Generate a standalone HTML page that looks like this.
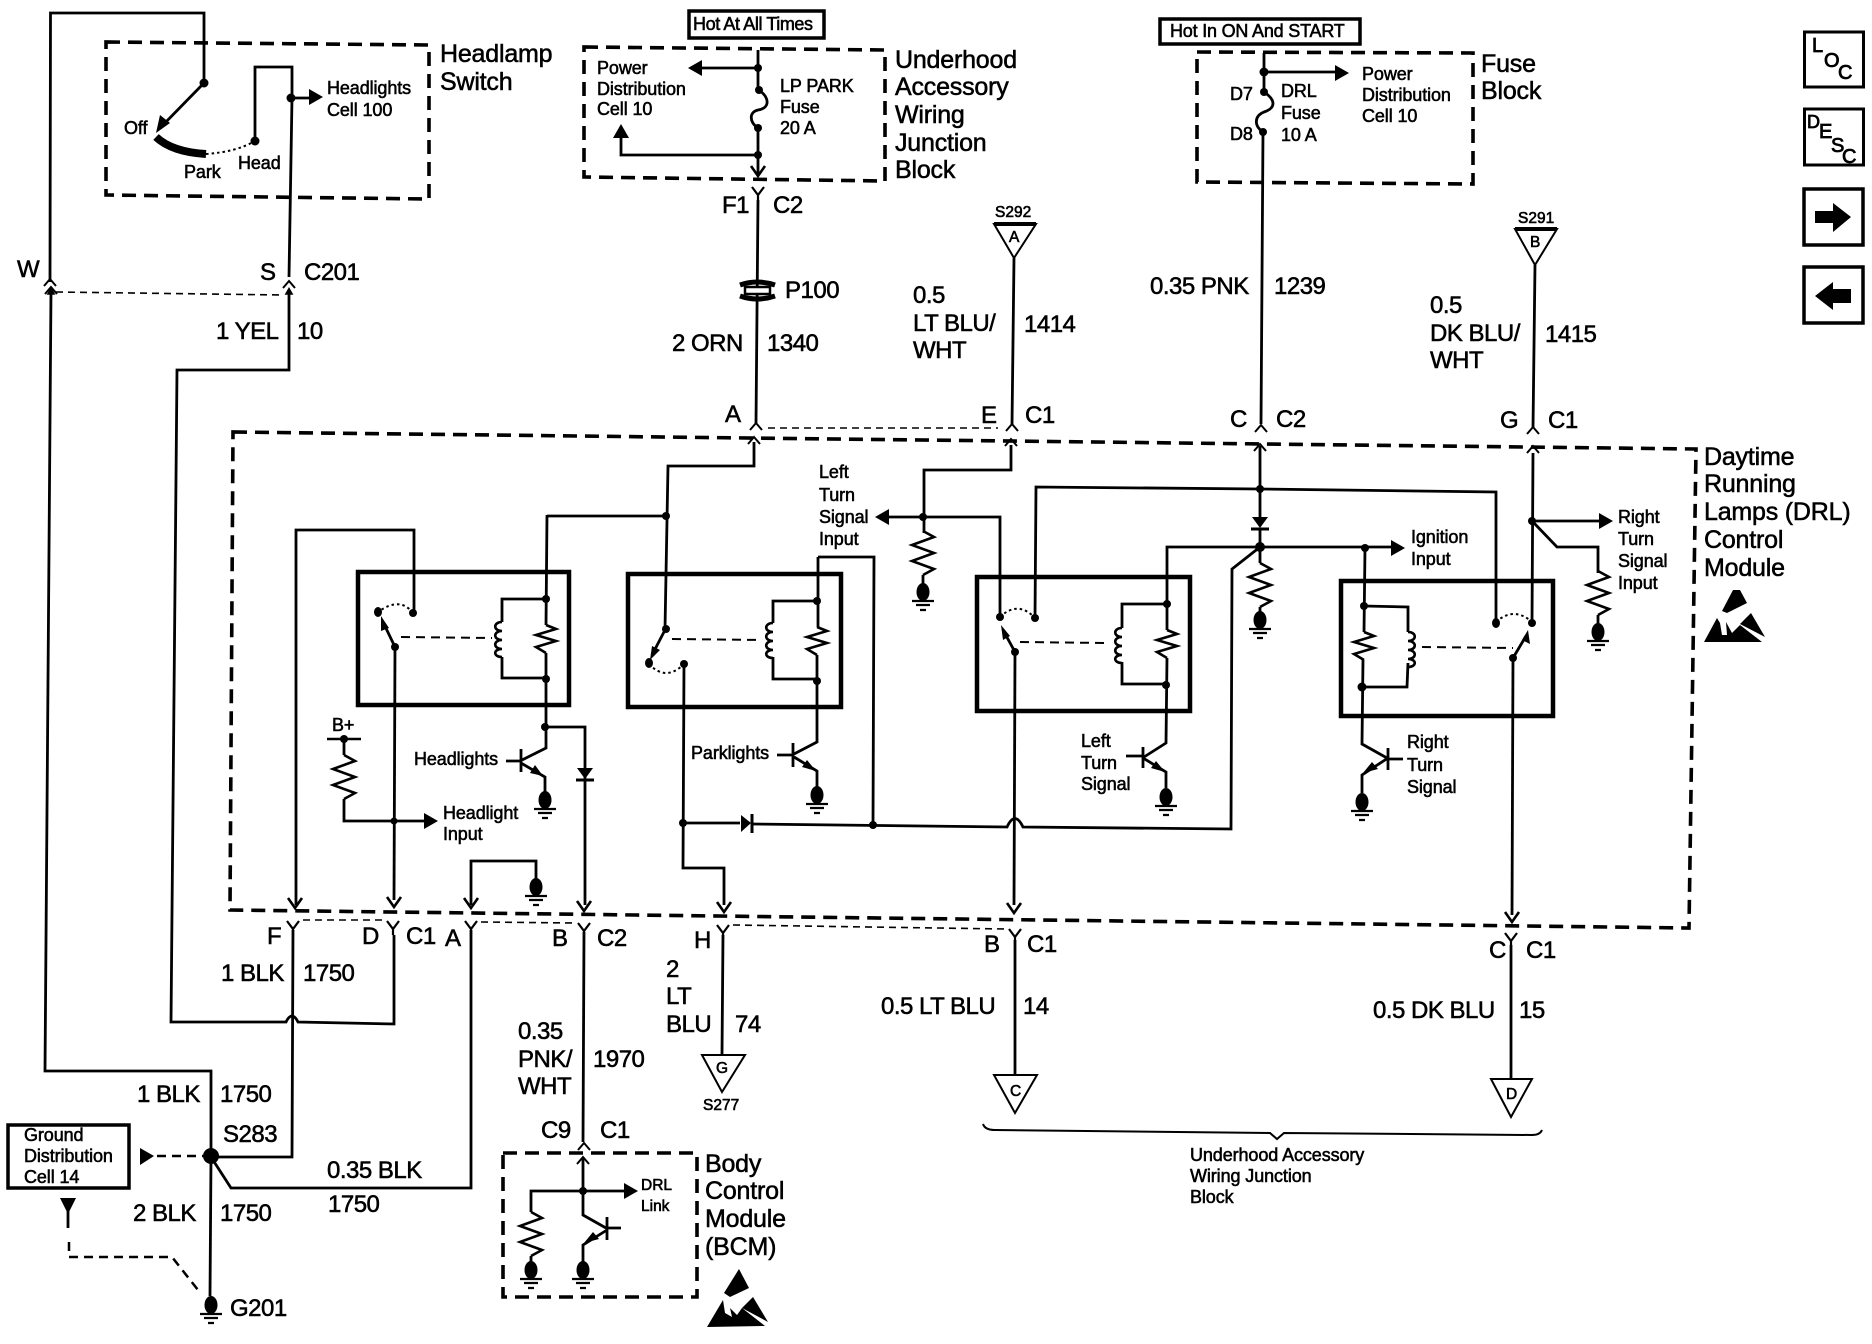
<!DOCTYPE html>
<html><head><meta charset="utf-8">
<style>
html,body{margin:0;padding:0;background:#fff}
svg{display:block}
text{font-family:"Liberation Sans",sans-serif;fill:#000;stroke:#000;stroke-width:.55}
.b{font-size:24px;letter-spacing:-.5px}
.m{font-size:25px;letter-spacing:-.2px}
.s{font-size:18px;letter-spacing:-.1px}
.t{font-size:15.5px;stroke-width:.6}
.w{fill:none;stroke:#000;stroke-width:2.8;stroke-linejoin:miter}
.n{fill:none;stroke:#000;stroke-width:2}
.k{fill:none;stroke:#000;stroke-width:4.5}
.d{fill:none;stroke:#000;stroke-width:3.6;stroke-dasharray:14 8}
.h{fill:none;stroke:#000;stroke-width:1.6;stroke-dasharray:7 5}
.r{fill:none;stroke:#000;stroke-width:2;stroke-dasharray:9 6}
.o{fill:none;stroke:#000;stroke-width:2;stroke-dasharray:2.5 3}
.l{font-size:20px;stroke-width:.8}
</style></head><body>
<svg xmlns="http://www.w3.org/2000/svg" width="1872" height="1344" viewBox="0 0 1872 1344">
<defs>
<polygon id="ar" points="0,0 -14,-8 -14,8" fill="#000"/>
<path id="va" d="M-7,-10 L0,0 L7,-10" fill="none" stroke="#000" stroke-width="2.6"/>
<path id="ca" d="M-6,7 L0,0 L6,7" fill="none" stroke="#000" stroke-width="2"/>
<path id="yc" d="M-6,0 L0,8 L6,0 M0,8 V14" fill="none" stroke="#000" stroke-width="2.2"/>
<g id="gr"><ellipse cx="0" cy="0" rx="6.5" ry="9" fill="#000"/><path d="M-11,9 H11 M-7,13 H7 M-3,18 H3" stroke="#000" stroke-width="2.2"/></g>
<path id="rs" d="M0,0 L10,4 L-10,10 L10,16 L-10,22 L0,28" fill="none" stroke="#000" stroke-width="2.6"/>
<path id="rl" d="M0,0 L11,6 L-11,14 L11,22 L-11,30 L11,38 L0,44" fill="none" stroke="#000" stroke-width="2.6"/>
<path id="cl" d="M0,0 c-9,0 -9,9 0,9 c-9,0 -9,9 0,9 c-9,0 -9,9 0,9 c-9,0 -9,8 0,8" fill="none" stroke="#000" stroke-width="2.6"/>
</defs>

<!-- Headlamp switch -->
<path class="d" d="M106,42 L429,45 L429,199 L106,195 Z"/>
<path class="w" d="M50,282 L50.500,13 H204 V83"/>
<path class="w" d="M204,83 L160,128"/>
<polygon points="156,133 160,115 170,123" fill="#000"/>
<path d="M156,137 Q172,152 206,154" fill="none" stroke="#000" stroke-width="8"/>
<path class="o" d="M206,154 Q236,152 255,141"/>
<path class="w" d="M255,141 V67 H292 V98 L289,277"/>
<path class="w" d="M291,98 H310"/><use href="#ar" transform="translate(323,97)"/>
<circle cx="204" cy="83" r="4.500"/><circle cx="255" cy="141" r="4.500"/><circle cx="291" cy="98" r="4.500"/>
<text class="s" x="124" y="134">Off</text><text class="s" x="184" y="178">Park</text><text class="s" x="238" y="169">Head</text>
<text class="s" x="327" y="94">Headlights</text><text class="s" x="327" y="116">Cell 100</text>
<text class="m" x="440" y="62">Headlamp</text><text class="m" x="440" y="90">Switch</text>

<!-- C201 -->
<use href="#ca" transform="translate(50,279)"/><use href="#ca" transform="translate(289,281)"/>
<use href="#ca" transform="translate(51,287)"/><use href="#ar" transform="translate(51,287) rotate(-90) scale(.55)"/>
<path class="h" d="M56,292 L284,295"/>
<path class="w" d="M51,290 L45,1071 H211 V1157"/>
<path class="w" d="M289,290 V370 H177 L171,1022 H286 Q292,1010 298,1022 L394,1024 V935"/>
<use href="#ar" transform="translate(289,287) rotate(-90) scale(.55)"/>
<text class="b" x="17" y="277">W</text><text class="b" x="260" y="280">S</text><text class="b" x="304" y="280">C201</text>
<text class="b" x="216" y="339">1 YEL</text><text class="b" x="297" y="339">10</text>

<!-- Hot at all times -->
<rect x="689" y="11" width="135" height="27" fill="none" stroke="#000" stroke-width="3.5"/>
<text class="s" x="693" y="30" style="letter-spacing:-.4px">Hot At All Times</text>
<path class="d" d="M584,47 L885,50 L885,181 L584,177 Z"/>
<path class="w" d="M758,50 V90"/><path class="w" d="M758,68 H700"/><use href="#ar" transform="translate(688,68) rotate(180)"/>
<path class="w" d="M759,90 C770,98 770,108 758,110 C749,112 749,122 758,128 V175"/>
<path class="w" d="M758,155 H621 V135"/><use href="#ar" transform="translate(621,124) rotate(-90)"/>
<use href="#va" transform="translate(758,176)"/>
<circle cx="758" cy="68" r="4"/><circle cx="759" cy="90" r="4"/><circle cx="758" cy="128" r="4"/><circle cx="758" cy="155" r="4"/>
<text class="s" x="597" y="74">Power</text><text class="s" x="597" y="95">Distribution</text><text class="s" x="597" y="115">Cell 10</text>
<text class="s" x="780" y="92">LP PARK</text><text class="s" x="780" y="113">Fuse</text><text class="s" x="780" y="134">20 A</text>
<text class="m" x="895" y="68">Underhood</text><text class="m" x="895" y="95">Accessory</text><text class="m" x="895" y="123">Wiring</text><text class="m" x="895" y="151">Junction</text><text class="m" x="895" y="178">Block</text>
<use href="#yc" transform="translate(758,187)"/>
<path class="w" d="M758,200 L756,423"/>
<path d="M740,285 Q757,279 775,285 M740,296 Q757,302 775,296" fill="none" stroke="#000" stroke-width="5"/>
<rect x="745" y="287" width="25" height="7" fill="#fff" stroke="#000" stroke-width="2.5"/>
<text class="b" x="722" y="213">F1</text><text class="b" x="773" y="213">C2</text>
<text class="b" x="785" y="298">P100</text>
<text class="b" x="672" y="351">2 ORN</text><text class="b" x="767" y="351">1340</text>
<text class="b" x="725" y="422">A</text>
<use href="#ca" transform="translate(756,423)"/>
<path class="h" d="M768,428 L998,428"/>

<!-- S292 -->
<text class="t" x="995" y="217">S292</text>
<polygon points="994,224 1036,224 1014,258" fill="none" stroke="#000" stroke-width="2"/><path d="M994,224 H1036" stroke="#000" stroke-width="4"/>
<text class="t" x="1009" y="242">A</text>
<path class="w" d="M1014,258 L1012,425"/><use href="#ca" transform="translate(1012,424)"/>
<text class="b" x="913" y="303">0.5</text><text class="b" x="913" y="331">LT BLU/</text><text class="b" x="913" y="358">WHT</text>
<text class="b" x="1024" y="332">1414</text>
<text class="b" x="981" y="423">E</text><text class="b" x="1025" y="423">C1</text>

<!-- Fuse block -->
<rect x="1160" y="19" width="200" height="25" fill="none" stroke="#000" stroke-width="3.500"/>
<text class="s" x="1170" y="37" style="letter-spacing:-.2px">Hot In ON And START</text>
<path class="d" d="M1197,52 L1473,53 L1473,184 L1197,182 Z"/>
<path class="w" d="M1264,53 V92 C1276,100 1276,108 1264,112 C1254,116 1254,126 1263,132 L1261,424"/>
<path class="w" d="M1264,72 H1336"/><use href="#ar" transform="translate(1349,73)"/>
<circle cx="1264" cy="72" r="4.500"/><circle cx="1264" cy="92" r="4"/><circle cx="1263" cy="132" r="4"/>
<text class="s" x="1230" y="100">D7</text><text class="s" x="1230" y="140">D8</text>
<text class="s" x="1281" y="97">DRL</text><text class="s" x="1281" y="119">Fuse</text><text class="s" x="1281" y="141">10 A</text>
<text class="s" x="1362" y="80">Power</text><text class="s" x="1362" y="101">Distribution</text><text class="s" x="1362" y="122">Cell 10</text>
<text class="m" x="1481" y="72">Fuse</text><text class="m" x="1481" y="99">Block</text>
<text class="b" x="1150" y="294">0.35 PNK</text><text class="b" x="1274" y="294">1239</text>
<text class="b" x="1230" y="427">C</text><text class="b" x="1276" y="427">C2</text>
<use href="#ca" transform="translate(1261,425)"/>

<!-- S291 -->
<text class="t" x="1518" y="223">S291</text>
<polygon points="1515,229 1557,229 1535,265" fill="none" stroke="#000" stroke-width="2"/><path d="M1515,229 H1557" stroke="#000" stroke-width="4"/>
<text class="t" x="1530" y="247">B</text>
<path class="w" d="M1535,265 L1533,428"/><use href="#ca" transform="translate(1533,427)"/>
<text class="b" x="1430" y="313">0.5</text><text class="b" x="1430" y="341">DK BLU/</text><text class="b" x="1430" y="368">WHT</text>
<text class="b" x="1545" y="342">1415</text>
<text class="b" x="1500" y="428">G</text><text class="b" x="1548" y="428">C1</text>

<!-- Nav buttons -->
<rect x="1804.500" y="32" width="59" height="55" fill="none" stroke="#000" stroke-width="3"/>
<text class="l" x="1812" y="52">L</text><text class="l" x="1824" y="67">O</text><text class="l" x="1838" y="79">C</text>
<rect x="1804.500" y="109" width="59" height="56" fill="none" stroke="#000" stroke-width="3"/>
<text class="l" x="1807" y="128" style="font-size:18px">D</text><text class="l" x="1819" y="138">E</text><text class="l" x="1831" y="152">S</text><text class="l" x="1842" y="163">C</text>
<rect x="1804" y="189" width="59" height="56" fill="none" stroke="#000" stroke-width="3.500"/>
<polygon points="1815,211 1833,211 1833,203 1851,217 1833,232 1833,223 1815,223" fill="#000"/>
<rect x="1804" y="267" width="59" height="56" fill="none" stroke="#000" stroke-width="3.500"/>
<polygon points="1851,289 1833,289 1833,282 1815,296 1833,310 1833,303 1851,303" fill="#000"/>

<!-- Main module dashed -->
<path class="d" d="M233,432 L1696,449 L1689,928 L230,910 Z"/>
<text class="m" x="1704" y="465">Daytime</text><text class="m" x="1704" y="492">Running</text><text class="m" x="1704" y="520">Lamps (DRL)</text><text class="m" x="1704" y="548">Control</text><text class="m" x="1704" y="576">Module</text>
<polygon points="1733,590 1740,590 1747,603 1727,613 1722,611" fill="#000"/>
<polygon points="1717,618 1720,623 1722,635 1727,635 1726,622 1732,633 1740,625 1762,642 1704,642" fill="#000"/>
<polygon points="1751,613 1765,637 1740,624" fill="#000"/>

<!-- Relay 1 -->
<rect x="358" y="572" width="211" height="133" class="k"/>
<path class="w" d="M296,905 V530 H414 V613"/>
<path class="o" d="M413,613 Q400,596 378,612"/>
<circle cx="413" cy="613" r="4"/><ellipse cx="378" cy="612" rx="4" ry="5"/>
<path class="w" d="M395,647 L383,622"/><polygon points="381,616 389,628 381,631" fill="#000"/>
<circle cx="395" cy="647" r="4"/>
<path class="r" d="M401,637 L492,638"/>
<path class="w" d="M395,647 L394,900"/><use href="#va" transform="translate(394,907)"/>
<use href="#va" transform="translate(295,908)"/>
<path class="w" d="M546,599 H502 V622"/><use href="#cl" transform="translate(502,622)"/><path class="w" d="M502,657 V678 H546"/>
<path class="w" d="M547,515 L546,625"/><use href="#rs" transform="translate(546,625)"/><path class="w" d="M546,653 V748 L522,760"/>
<circle cx="546" cy="599" r="4"/><circle cx="546" cy="679" r="4"/><circle cx="545" cy="727" r="4"/>
<path class="w" d="M506,761 H521 M521,749 V772"/>
<path class="w" d="M521,763 L545,777 V792"/><polygon points="543,776 530,773 535,765" fill="#000"/>
<use href="#gr" transform="translate(545,800)"/>
<text class="s" x="414" y="765">Headlights</text>
<path class="w" d="M545,727 H585 V905"/><polygon points="577,768 593,768 585,779" fill="#000"/><path d="M576,780 H594" stroke="#000" stroke-width="3"/>
<use href="#va" transform="translate(584,911)"/>
<text class="s" x="332" y="731">B+</text>
<path d="M327,739 H361" stroke="#000" stroke-width="2.600"/><circle cx="344" cy="739" r="4"/>
<path class="w" d="M344,739 V755"/><use href="#rl" transform="translate(344,755)"/><path class="w" d="M344,799 V821 H426"/>
<use href="#ar" transform="translate(438,821)"/><circle cx="394" cy="821" r="3.500"/>
<text class="s" x="443" y="819">Headlight</text><text class="s" x="443" y="840">Input</text>
<path class="w" d="M471,905 V861 H536 V880"/><use href="#va" transform="translate(471,908)"/>
<use href="#gr" transform="translate(536,887)"/>

<!-- top link A -->
<path class="w" d="M754,442 V466 H668 L665,629"/><use href="#ca" transform="translate(754,437)"/>
<path class="w" d="M666,516 H547"/><circle cx="666" cy="516" r="4"/>

<!-- Relay 2 -->
<rect x="628" y="574" width="213" height="133" class="k"/>
<circle cx="666" cy="629" r="4"/><ellipse cx="649" cy="663" rx="4" ry="5"/><circle cx="684" cy="664" r="4"/>
<path class="w" d="M665,630 L652,655"/><polygon points="650,660 652,646 660,650" fill="#000"/>
<path class="o" d="M649,664 Q666,682 684,664"/>
<path class="r" d="M672,639 L762,640"/>
<path class="w" d="M684,664 L683,868 H724 V905"/><use href="#va" transform="translate(724,912)"/>
<path class="w" d="M817,601 H773 V623"/><use href="#cl" transform="translate(773,623)"/><path class="w" d="M773,657 V679 H817"/>
<path class="w" d="M818,557 H874 L873,825"/>
<path class="w" d="M818,557 V627"/><use href="#rs" transform="translate(817,627)"/><path class="w" d="M817,655 V742 L794,754"/>
<circle cx="817" cy="601" r="4"/><circle cx="817" cy="681" r="4"/>
<path class="w" d="M777,755 H793 M793,743 V767"/><path class="w" d="M794,757 L817,771 V787"/><polygon points="816,771 802,767 807,760" fill="#000"/>
<use href="#gr" transform="translate(817,795)"/>
<text class="s" x="691" y="759">Parklights</text>
<text class="s" x="819" y="478">Left</text><text class="s" x="819" y="501">Turn</text><text class="s" x="819" y="523">Signal</text><text class="s" x="819" y="545">Input</text>

<!-- diode line -->
<path class="w" d="M683,823 H740 M752,824 L1007,827 Q1015,810 1023,827 L1231,829 L1232,569 L1260,547"/>
<polygon points="741,815 751,823 741,832" fill="#000"/><path d="M752,814 V833" stroke="#000" stroke-width="3"/>
<circle cx="683" cy="823" r="4"/><circle cx="873" cy="825" r="4"/>

<!-- Left turn input -->
<path class="w" d="M1011,445 V470 H924 V533"/><use href="#ca" transform="translate(1011,439)"/>
<use href="#ar" transform="translate(875,517) rotate(180)"/><path class="w" d="M888,517 H1000 V617"/><circle cx="923" cy="517" r="4"/>
<use href="#rl" transform="translate(923,531)"/><path class="w" d="M923,575 V585"/><use href="#gr" transform="translate(923,592)"/>

<!-- Relay 3 -->
<rect x="977" y="577" width="213" height="134" class="k"/>
<path class="w" d="M1035,618 L1036,487 L1260,489 L1496,492 V623"/>
<circle cx="1000" cy="617" r="4"/><circle cx="1035" cy="618" r="4"/><circle cx="1015" cy="652" r="4"/>
<path class="o" d="M1000,617 Q1018,600 1035,618"/>
<path class="w" d="M1015,652 L1003,630"/><polygon points="1001,625 1010,636 1003,640" fill="#000"/>
<path class="r" d="M1020,642 L1107,643"/>
<path class="w" d="M1015,652 L1014,905"/><use href="#va" transform="translate(1014,913)"/>
<path class="w" d="M1167,604 H1122 V628"/><use href="#cl" transform="translate(1122,628)"/><path class="w" d="M1122,662 V684 H1166"/>
<path class="w" d="M1260,547 H1167 V630"/><use href="#rs" transform="translate(1167,630)"/><path class="w" d="M1167,658 L1166,743 L1144,757"/>
<circle cx="1167" cy="604" r="4"/><circle cx="1166" cy="685" r="4"/>
<path class="w" d="M1126,756 H1143 M1143,747 V768"/><path class="w" d="M1143,758 L1166,772 V788"/><polygon points="1165,772 1151,768 1156,761" fill="#000"/>
<use href="#gr" transform="translate(1166,797)"/>
<text class="s" x="1081" y="747">Left</text><text class="s" x="1081" y="769">Turn</text><text class="s" x="1081" y="790">Signal</text>

<!-- Center ignition -->
<path class="w" d="M1260,446 V518 M1260,530 V563"/><use href="#ca" transform="translate(1260,444)"/>
<polygon points="1252,517 1268,517 1260,528" fill="#000"/><path d="M1251,529 H1269" stroke="#000" stroke-width="3"/>
<circle cx="1260" cy="489" r="4"/><circle cx="1260" cy="547" r="5"/>
<use href="#rl" transform="translate(1260,563)"/><path class="w" d="M1260,607 V613"/><use href="#gr" transform="translate(1260,620)"/>
<path class="w" d="M1260,547 H1392"/><use href="#ar" transform="translate(1405,548)"/><circle cx="1365" cy="548" r="4"/>
<text class="s" x="1411" y="543">Ignition</text><text class="s" x="1411" y="565">Input</text>

<!-- Relay 4 -->
<rect x="1341" y="581" width="212" height="135" class="k"/>
<path class="w" d="M1365,548 L1364,632"/><use href="#rs" transform="translate(1364,632)"/><path class="w" d="M1363,660 L1362,744 L1387,758"/>
<path class="w" d="M1364,606 L1408,607 V632"/><use href="#cl" transform="translate(1408,632) scale(-1,1)"/><path class="w" d="M1408,663 L1407,687 H1362"/>
<circle cx="1364" cy="606" r="4"/><circle cx="1362" cy="687" r="4.500"/>
<path class="w" d="M1403,759 H1388 M1388,748 V770"/><path class="w" d="M1388,758 L1362,775 V793"/><polygon points="1363,773 1372,762 1378,769" fill="#000"/>
<use href="#gr" transform="translate(1362,802)"/>
<text class="s" x="1407" y="748">Right</text><text class="s" x="1407" y="771">Turn</text><text class="s" x="1407" y="793">Signal</text>
<path class="r" d="M1422,647 L1513,648"/>
<ellipse cx="1496" cy="623" rx="4" ry="5"/><circle cx="1532" cy="623" r="4"/><circle cx="1513" cy="658" r="4"/>
<path class="o" d="M1496,622 Q1514,606 1532,622"/>
<path class="w" d="M1513,658 L1526,636"/><polygon points="1528,630 1530,644 1522,640" fill="#000"/>
<path class="w" d="M1513,658 L1512,915"/><use href="#va" transform="translate(1512,922)"/>
<path class="w" d="M1533,453 L1532,623"/><use href="#ca" transform="translate(1533,446)"/>
<circle cx="1532" cy="521" r="4"/>
<path class="w" d="M1532,521 H1600"/><use href="#ar" transform="translate(1613,521)"/>
<path class="w" d="M1533,522 L1557,547 H1598 V573"/><use href="#rl" transform="translate(1598,571)"/><path class="w" d="M1598,615 V625"/>
<use href="#gr" transform="translate(1598,632)"/>
<text class="s" x="1618" y="523">Right</text><text class="s" x="1618" y="545">Turn</text><text class="s" x="1618" y="567">Signal</text><text class="s" x="1618" y="589">Input</text>

<!-- Lower connectors -->
<use href="#yc" transform="translate(293,921)"/><use href="#yc" transform="translate(393,921)"/><use href="#yc" transform="translate(471,921)"/><use href="#yc" transform="translate(584,923)"/><use href="#yc" transform="translate(723,925)"/><use href="#yc" transform="translate(1015,929)"/><use href="#yc" transform="translate(1511,933)"/>
<path class="h" d="M303,920 L383,920 M481,922 L574,923 M733,925 L1005,929"/>
<text class="b" x="267" y="944">F</text><text class="b" x="362" y="944">D</text><text class="b" x="406" y="944">C1</text><text class="b" x="445" y="946">A</text><text class="b" x="552" y="946">B</text><text class="b" x="597" y="946">C2</text><text class="b" x="694" y="948">H</text>
<text class="b" x="984" y="952">B</text><text class="b" x="1027" y="952">C1</text><text class="b" x="1489" y="958">C</text><text class="b" x="1526" y="958">C1</text>
<path class="w" d="M293,930 L292,1157 H211"/>
<path class="w" d="M471,930 V1188 H231 L211,1157"/>
<path class="w" d="M584,932 L583,1142"/>
<path class="w" d="M723,935 L722,1054"/>
<path class="w" d="M1015,940 V1074"/>
<path class="w" d="M1511,945 V1078"/>
<text class="b" x="221" y="981">1 BLK</text><text class="b" x="303" y="981">1750</text>
<text class="b" x="137" y="1102">1 BLK</text><text class="b" x="220" y="1102">1750</text>
<text class="b" x="223" y="1142">S283</text>
<text class="b" x="327" y="1178">0.35 BLK</text><text class="b" x="328" y="1212">1750</text>
<text class="b" x="133" y="1221">2 BLK</text><text class="b" x="220" y="1221">1750</text>
<path class="w" d="M211,1157 L210,1296"/><circle cx="211" cy="1156" r="8"/>
<use href="#gr" transform="translate(211,1305)"/><text class="b" x="230" y="1316">G201</text>
<rect x="8" y="1125" width="121" height="63" fill="none" stroke="#000" stroke-width="3.500"/>
<text class="s" x="24" y="1141">Ground</text><text class="s" x="24" y="1162">Distribution</text><text class="s" x="24" y="1183">Cell 14</text>
<polygon points="154,1156 140,1148 140,1165" fill="#000"/>
<path class="r" d="M157,1156 H203" style="stroke-width:2.500"/>
<polygon points="60,1198 76,1198 68,1214" fill="#000"/><path class="w" d="M68,1208 V1228"/>
<path class="r" d="M69,1242 V1257 H172 L198,1290" style="stroke-width:2.500"/>

<!-- G triangle -->
<text class="b" x="666" y="977">2</text><text class="b" x="666" y="1004">LT</text><text class="b" x="666" y="1032">BLU</text><text class="b" x="735" y="1032">74</text>
<polygon points="702,1055 745,1055 722,1092" fill="#fff" stroke="#000" stroke-width="2"/>
<text class="t" x="716" y="1073">G</text><text class="t" x="703" y="1110">S277</text>

<!-- C / D triangles -->
<text class="b" x="881" y="1014">0.5 LT BLU</text><text class="b" x="1023" y="1014">14</text>
<polygon points="994,1075 1037,1075 1015,1113" fill="#fff" stroke="#000" stroke-width="2"/><text class="t" x="1010" y="1096">C</text>
<text class="b" x="1373" y="1018">0.5 DK BLU</text><text class="b" x="1519" y="1018">15</text>
<polygon points="1491,1079 1532,1079 1511,1117" fill="#fff" stroke="#000" stroke-width="2"/><text class="t" x="1506" y="1099">D</text>
<path class="n" d="M983,1124 Q985,1130 995,1130 L1270,1133 L1277,1139 L1284,1133 L1532,1135 Q1540,1135 1542,1130"/>
<text class="s" x="1190" y="1161">Underhood Accessory</text><text class="s" x="1190" y="1182">Wiring Junction</text><text class="s" x="1190" y="1203">Block</text>

<!-- BCM -->
<text class="b" x="518" y="1039">0.35</text><text class="b" x="518" y="1067">PNK/</text><text class="b" x="518" y="1094">WHT</text>
<text class="b" x="593" y="1067">1970</text><text class="b" x="541" y="1138">C9</text><text class="b" x="600" y="1138">C1</text>
<use href="#ca" transform="translate(584,1143)"/>
<path class="d" d="M503,1153 H697 V1297 H503 Z"/>
<use href="#ca" transform="translate(583,1157)"/>
<path class="w" d="M583,1158 V1215 L606,1228"/>
<path class="w" d="M531,1212 V1191 H625"/><use href="#ar" transform="translate(638,1191)"/>
<circle cx="583" cy="1191" r="4"/>
<use href="#rl" transform="translate(531,1212)"/><path class="w" d="M531,1256 V1262"/><use href="#gr" transform="translate(531,1270)"/>
<path class="w" d="M621,1228 H607 M607,1217 V1240"/><path class="w" d="M607,1230 L583,1245 V1262"/><polygon points="584,1243 593,1232 599,1239" fill="#000"/>
<use href="#gr" transform="translate(583,1270)"/>
<text class="t" x="641" y="1190">DRL</text><text class="t" x="641" y="1211">Link</text>
<text class="m" x="705" y="1172">Body</text><text class="m" x="705" y="1199">Control</text><text class="m" x="705" y="1227">Module</text><text class="m" x="705" y="1255">(BCM)</text>
<polygon points="739,1269 749,1288 730,1297 724,1293" fill="#000"/>
<polygon points="707,1327 723,1300 725,1313 732,1317 730,1308 737,1315 742,1308 765,1326" fill="#000"/>
<polygon points="753,1297 768,1322 742,1308" fill="#000"/>
</svg>
</body></html>
